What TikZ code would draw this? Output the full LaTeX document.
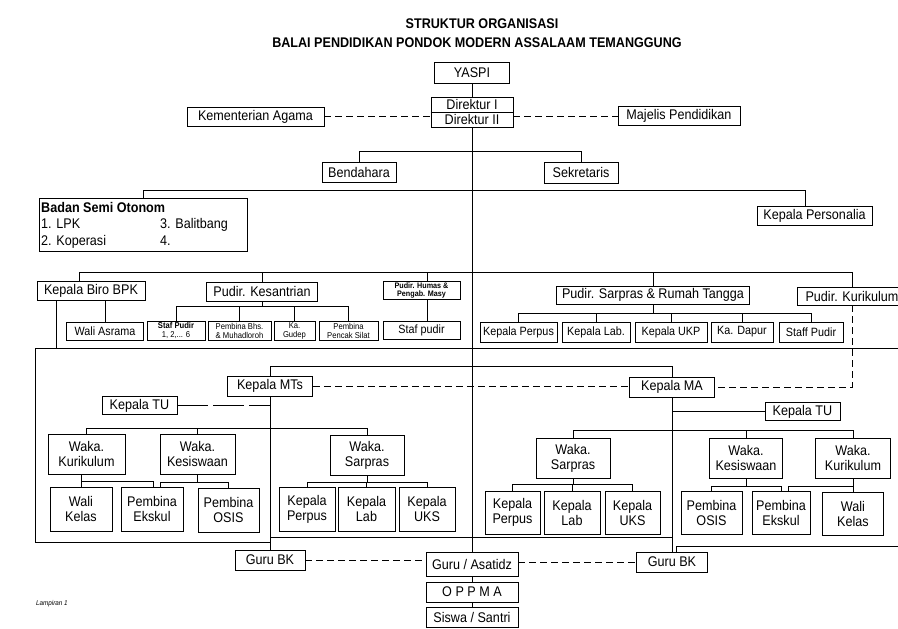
\documentclass[tikz,border=0pt]{standalone}
\usepackage{fontspec}
\setmainfont{Liberation Sans}[FakeStretch=0.9]
\begin{document}
\begin{tikzpicture}[x=1pt,y=-1pt,
  ln/.style={line width=0.8pt},
  dline/.style={line width=0.8pt, dash pattern=on 7pt off 4pt},
  tuline/.style={line width=0.8pt, dash pattern=on 31pt off 5pt},
  box/.style={draw, line width=0.8pt, inner sep=0pt, align=center, font=\fontsize{14}{15}\selectfont},
  sbox/.style={draw, line width=0.8pt, inner sep=0pt, align=center, font=\fontsize{12}{13}\selectfont},
  tbox/.style={draw, line width=0.8pt, inner sep=0pt, align=center, font=\fontsize{8.5}{9}\selectfont},
  hbox/.style={draw, line width=0.8pt, inner sep=0pt, align=center, font=\fontsize{8}{8.5}\bfseries},
  txt/.style={inner sep=0pt, anchor=base west, font=\fontsize{14}{15}\selectfont},
  ttl/.style={inner sep=0pt, font=\fontsize{14}{16}\bfseries}]
\useasboundingbox (0,0) rectangle (898,629);
\fill[white] (0,0) rectangle (898,629);
\clip (0,0) rectangle (898,629);

% titles
\node[ttl] (t1) at (482,24) {STRUKTUR ORGANISASI};
\node[ttl] (t2) at (477,43) {BALAI PENDIDIKAN PONDOK MODERN ASSALAAM TEMANGGUNG};

% top
\node[box, minimum width=75, minimum height=21] (yaspi) at (472,72.5) {YASPI};
\node[box, minimum width=82, minimum height=30] (dir) at (472,112) {Direktur I\\Direktur II};
\node[box, minimum width=137, minimum height=19] (kem) at (255.5,116.5) {Kementerian Agama};
\node[box, minimum width=122, minimum height=19] (maj) at (679,116) {Majelis Pendidikan};
\node[box, minimum width=74, minimum height=20] (bend) at (359,172) {Bendahara};
\node[box, minimum width=74, minimum height=21] (sek) at (581,172.5) {Sekretaris};

% badan semi otonom
\node[draw, line width=0.8pt, inner sep=0pt, minimum width=208, minimum height=53] (badan) at (143,224.5) {};
\node[txt, font=\fontsize{14}{15}\bfseries] (bso) at (41,212) {Badan Semi Otonom};
\node[txt] (b1) at (41,228.5) {1. LPK};
\node[txt] (b3) at (160,228.5) {3. Balitbang};
\node[txt] (b2) at (41,245) {2. Koperasi};
\node[txt] (b4) at (160,245) {4.};
\node[box, minimum width=115, minimum height=19] (pers) at (814.5,216) {Kepala Personalia};

% level 3
\node[box, minimum width=108, minimum height=19] (kbb) at (91,291) {Kepala Biro BPK};
\node[box, minimum width=111, minimum height=19] (kes) at (262,291.5) {Pudir. Kesantrian};
\node[hbox, minimum width=77, minimum height=18] (hum) at (421.5,290.5) {Pudir. Humas \&\\Pengab. Masy};
\node[box, minimum width=193, minimum height=18] (sar) at (653,295) {Pudir. Sarpras \& Rumah Tangga};
\node[box, minimum width=110, minimum height=18] (kur) at (852,296) {Pudir. Kurikulum};

% level 4
\node[sbox, minimum width=77, minimum height=18] (wa) at (105,331) {Wali Asrama};
\node[tbox, minimum width=58, minimum height=19] (sp) at (176,330.5) {\textbf{Staf Pudir}\\1, 2,... 6};
\node[tbox, minimum width=63, minimum height=19] (pb) at (239.5,330.5) {Pembina Bhs.\\\& Muhadloroh};
\node[tbox, minimum width=41, minimum height=19] (kg) at (294.5,330.5) {Ka.\\Gudep};
\node[tbox, minimum width=59, minimum height=19] (pps) at (348.5,330.5) {Pembina\\Pencak Silat};
\node[sbox, minimum width=77, minimum height=18] (stp) at (421.5,330) {Staf pudir};
\node[sbox, minimum width=77, minimum height=20] (kp) at (518.5,332) {Kepala Perpus};
\node[sbox, minimum width=68, minimum height=20] (kl) at (596,332) {Kepala Lab.};
\node[sbox, minimum width=72, minimum height=20] (ku) at (671,332) {Kepala UKP};
\node[sbox, minimum width=62, minimum height=20] (kd) at (742,332) {Ka. Dapur};
\node[sbox, minimum width=64, minimum height=20] (sfp) at (811,332) {Staff Pudir};

% MTs / MA heads
\node[box, minimum width=85, minimum height=20] (mts) at (270,386) {Kepala MTs};
\node[box, minimum width=85, minimum height=20] (ma) at (672,387) {Kepala MA};
\node[box, minimum width=75, minimum height=18] (tu1) at (139.5,405.5) {Kepala TU};
\node[box, minimum width=75, minimum height=18] (tu2) at (802.5,411.5) {Kepala TU};

% wakas
\node[box, minimum width=77, minimum height=40] (wk1) at (86.5,454) {Waka.\\Kurikulum};
\node[box, minimum width=75, minimum height=40] (ws1) at (197.5,454) {Waka.\\Kesiswaan};
\node[box, minimum width=74, minimum height=40] (wp1) at (367,455) {Waka.\\Sarpras};
\node[box, minimum width=74, minimum height=40] (wp2) at (573,458) {Waka.\\Sarpras};
\node[box, minimum width=73, minimum height=40] (ws2) at (746,458) {Waka.\\Kesiswaan};
\node[box, minimum width=75, minimum height=40] (wk2) at (853,458) {Waka.\\Kurikulum};

% bottom row MTs
\node[box, minimum width=62, minimum height=44] (wkl1) at (81,509) {Wali\\Kelas};
\node[box, minimum width=62, minimum height=44] (pe1) at (152,509) {Pembina\\Ekskul};
\node[box, minimum width=61, minimum height=44] (po1) at (228.5,510) {Pembina\\OSIS};
\node[box, minimum width=56, minimum height=44] (kp1) at (307,509) {Kepala\\Perpus};
\node[box, minimum width=57, minimum height=44] (kl1) at (366.5,509) {Kepala\\Lab};
\node[box, minimum width=56, minimum height=44] (ku1) at (427,509) {Kepala\\UKS};
% bottom row MA
\node[box, minimum width=55, minimum height=43] (kp2) at (512.5,512.5) {Kepala\\Perpus};
\node[box, minimum width=56, minimum height=43] (kl2) at (572,512.5) {Kepala\\Lab};
\node[box, minimum width=55, minimum height=43] (ku2) at (632.5,512.5) {Kepala\\UKS};
\node[box, minimum width=61, minimum height=43] (po2) at (711.5,513) {Pembina\\OSIS};
\node[box, minimum width=58, minimum height=43] (pe2) at (781,513) {Pembina\\Ekskul};
\node[box, minimum width=61, minimum height=43] (wkl2) at (853,513.5) {Wali\\Kelas};

% bottom
\node[box, minimum width=70, minimum height=20] (gbk1) at (270,560) {Guru BK};
\node[box, minimum width=92, minimum height=24] (gga) at (472,564) {Guru / Asatidz};
\node[box, minimum width=71, minimum height=20] (gbk2) at (672,562) {Guru BK};
\node[box, minimum width=92, minimum height=20] (oppma) at (472,592) {O P P M A};
\node[box, minimum width=92, minimum height=20] (siswa) at (472,617) {Siswa / Santri};
\node[inner sep=0pt, anchor=base west, font=\fontsize{7}{8}\itshape] (lamp) at (36,605) {Lampiran 1};

% ---------- connectors ----------
\draw[ln] (dir.west) -- (dir.east);
\draw[ln] (yaspi) -- (dir);
\draw[dline] (kem.east) -- (kem.east -| dir.west);
\draw[dline] (maj.west -| dir.east) -- (maj.west);
\draw[ln] (dir.south) -- (gga.north);
\draw[ln] (bend.north) -- ++(0,-10) -| (sek.north);

\coordinate (L2a) at (143,190);
\coordinate (L2b) at (805,190);
\draw[ln] (badan.north) -- (L2a) -- (L2b) -- (L2b |- pers.north);

\coordinate (L3a) at (79,272);
\coordinate (L3b) at (852,272);
\coordinate (hx) at (427,272);
\draw[ln] (L3a |- kbb.north) -- (L3a) -- (L3b) -- (kur.north);
\draw[ln] (kes.north) -- (kes.north |- L3a);
\draw[ln] (hx) -- (hx |- hum.north);
\draw[ln] (hum.south -| hx) -- (hx |- stp.north);
\draw[ln] (sar.north) -- (sar.north |- L3a);

\draw[ln] (kbb.south -| wa.north) -- (wa.north);
\coordinate (kb) at (262,306);
\draw[ln] (kes.south) -- (kb);
\draw[ln] (sp.north) -- (sp.north |- kb) -| (pps.north);
\draw[ln] (pb.north) -- (pb.north |- kb);
\draw[ln] (kg.north) -- (kg.north |- kb);
\coordinate (sb) at (653,313);
\draw[ln] (sar.south) -- (sb);
\draw[ln] (kp.north) -- (kp.north |- sb) -| (sfp.north);
\draw[ln] (kl.north) -- (kl.north |- sb);
\draw[ln] (ku.north) -- (ku.north |- sb);
\draw[ln] (kd.north) -- (kd.north |- sb);

% frame
\coordinate (F1) at (35,348);
\coordinate (F2) at (898,348);
\coordinate (F3) at (35,542);
\coordinate (F4) at (270,542);
\coordinate (kx) at (56,348);
\draw[ln] (kbb.south -| kx) -- (kx);
\draw[ln] (F2) -- (F1) -- (F3) -- (F4);

% MTs / MA
\coordinate (tm) at (472,366);
\draw[ln] (mts.north) -- (mts.north |- tm) -- (ma.north |- tm) -- (ma.north);
\draw[dline] (mts.east) -- (mts.east -| ma.west);
\draw[dline] (kur.south) -- (kur.south |- ma.east) -- (ma.east);
\draw[tuline] (tu1.east) -- (tu1.east -| mts.south);
\draw[ln] (tu2.west -| ma.south) -- (tu2.west);
\draw[ln] (mts.south) -- (gbk1.north);
\draw[ln] (ma.south) -- (gbk2.north);

\coordinate (wb1) at (270,428);
\draw[ln] (wk1.north) -- (wk1.north |- wb1) -| (wp1.north);
\draw[ln] (ws1.north) -- (ws1.north |- wb1);
\coordinate (wb2) at (672,430);
\draw[ln] (wp2.north) -- (wp2.north |- wb2) -| (wk2.north);
\draw[ln] (ws2.north) -- (ws2.north |- wb2);

% MTs sub-brackets
\draw[ln] (wk1.south -| wkl1.north) -- (wkl1.north);
\coordinate (s1) at (81,481);
\coordinate (s1b) at (153,481);
\draw[ln] (s1) -- (s1b) -- (s1b |- pe1.north);
\coordinate (s2) at (197.5,482);
\coordinate (s2a) at (160,482);
\draw[ln] (ws1.south) -- (s2);
\draw[ln] (s2a |- pe1.north) -- (s2a) -| (po1.north);
\coordinate (s3) at (367,482);
\draw[ln] (wp1.south) -- (s3);
\draw[ln] (kp1.north) -- (kp1.north |- s3) -| (ku1.north);
\draw[ln] (kl1.north) -- (kl1.north |- s3);

% MA sub-brackets
\coordinate (s4) at (573,484);
\draw[ln] (wp2.south) -- (s4);
\draw[ln] (kp2.north) -- (kp2.north |- s4) -| (ku2.north);
\draw[ln] (kl2.north) -- (kl2.north |- s4);
\coordinate (s5) at (746,486);
\draw[ln] (ws2.south) -- (s5);
\draw[ln] (po2.north) -- (po2.north |- s5) -| (pe2.north);
\draw[ln] (wk2.south) -- (wkl2.north);
\coordinate (s6) at (853,486);
\coordinate (s6b) at (788,486);
\draw[ln] (s6) -- (s6b) -- (s6b |- pe2.north);

% bottom lines
\coordinate (bl1) at (270,537);
\coordinate (bl2) at (672,537);
\draw[ln] (bl1) -- (bl2);
\coordinate (R1) at (898,546);
\coordinate (R2) at (676,546);
\draw[ln] (R1) -- (R2) -- (R2 |- gbk2.north);
\draw[dline] (gbk1.east) -- (gbk1.east -| gga.west);
\draw[dline] (gga.east |- gbk2.west) -- (gbk2.west);
\draw[ln] (gga) -- (oppma);
\draw[ln] (oppma) -- (siswa);
\end{tikzpicture}
\end{document}
